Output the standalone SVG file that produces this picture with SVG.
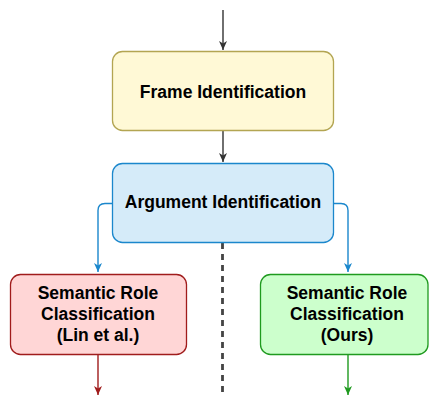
<svg xmlns="http://www.w3.org/2000/svg" width="429" height="396" viewBox="0 0 429 396">
<defs>
<style>
text{font-family:"Liberation Sans",Arial,Helvetica,sans-serif;font-weight:bold;font-size:17.5px;fill:#000;text-anchor:middle}
.conn{fill:none;stroke-width:1.4}
</style>
<marker id="aDark" markerWidth="10" markerHeight="10" refX="9" refY="5" orient="auto" markerUnits="userSpaceOnUse" viewBox="0 0 10 10"><path d="M0,1 L9,5 L0,9 L2.5,5 Z" fill="#333"/></marker>
<marker id="aBlue" markerWidth="10" markerHeight="10" refX="9" refY="5" orient="auto" markerUnits="userSpaceOnUse" viewBox="0 0 10 10"><path d="M0,1 L9,5 L0,9 L2.5,5 Z" fill="#1b87cc"/></marker>
<marker id="aRed" markerWidth="10" markerHeight="10" refX="9" refY="5" orient="auto" markerUnits="userSpaceOnUse" viewBox="0 0 10 10"><path d="M0,1 L9,5 L0,9 L2.5,5 Z" fill="#a01c1c"/></marker>
<marker id="aGreen" markerWidth="10" markerHeight="10" refX="9" refY="5" orient="auto" markerUnits="userSpaceOnUse" viewBox="0 0 10 10"><path d="M0,1 L9,5 L0,9 L2.5,5 Z" fill="#1f9a1f"/></marker>
</defs>
<g id="connectors">
<path class="conn" d="M223,10 V50" stroke="#333" marker-end="url(#aDark)"/>
<path class="conn" d="M223,131 V162" stroke="#333" marker-end="url(#aDark)"/>
<path class="conn" d="M112,203.5 H105 Q98,203.5 98,210.5 V272" stroke="#1b87cc" marker-end="url(#aBlue)"/>
<path class="conn" d="M333,203.5 H341 Q348,203.5 348,210.5 V272" stroke="#1b87cc" marker-end="url(#aBlue)"/>
<path class="conn" d="M98,355 V395" stroke="#a01c1c" marker-end="url(#aRed)"/>
<path class="conn" d="M348,355 V395" stroke="#1f9a1f" marker-end="url(#aGreen)"/>
<path d="M222.5,243 V396" fill="none" stroke="#444" stroke-width="2.8" stroke-dasharray="6 5"/>
</g>
<g id="frame-identification">
<rect x="112.5" y="51.5" width="221" height="79" rx="10" fill="#fff9d6" stroke="#b3a552" stroke-width="1.3"/>
<text x="223" y="97.5">Frame Identification</text>
</g>
<g id="argument-identification">
<rect x="112.5" y="163.5" width="221" height="79" rx="10" fill="#d5ebf9" stroke="#1b87cc" stroke-width="1.3"/>
<text x="223" y="208">Argument Identification</text>
</g>
<g id="src-lin">
<rect x="10.5" y="274.5" width="176" height="80" rx="10" fill="#ffd6d6" stroke="#a01c1c" stroke-width="1.3"/>
<text x="98" y="299">Semantic Role</text>
<text x="98" y="320">Classification</text>
<text x="98" y="341">(Lin et al.)</text>
</g>
<g id="src-ours">
<rect x="260.5" y="274.5" width="167.5" height="80" rx="10" fill="#ccffcc" stroke="#1f9a1f" stroke-width="1.3"/>
<text x="347" y="299">Semantic Role</text>
<text x="347" y="320">Classification</text>
<text x="347" y="341">(Ours)</text>
</g>
</svg>
